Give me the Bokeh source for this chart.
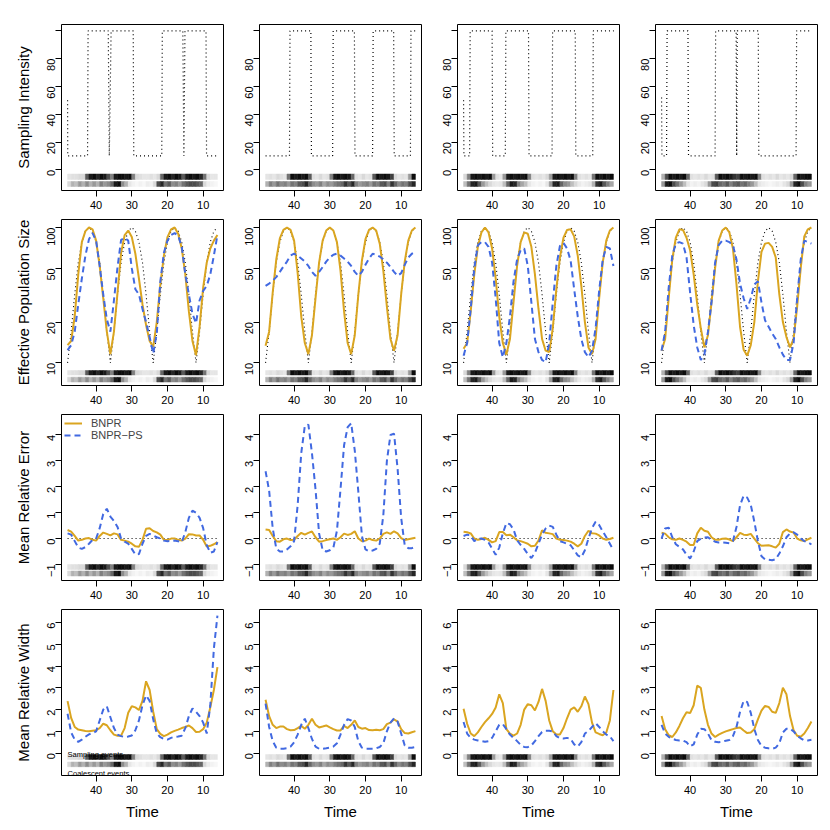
import math
from bokeh.plotting import figure
from bokeh.models import Range1d, FixedTicker, Legend, LegendItem, Label
from bokeh.layouts import gridplot
from bokeh.embed import file_html
from bokeh.resources import INLINE

# ---------------- data ----------------
time = [48, 47, 46, 45, 44, 43, 42, 41, 40, 39, 38, 37, 36, 35, 34, 33, 32, 31, 30, 29, 28,
        27, 26, 25, 24, 23, 22, 21, 20, 19, 18, 17, 16, 15, 14, 13, 12, 11, 10, 9, 8, 7, 6]

x_ticks = [40, 30, 20, 10]

# sampling intensity (step functions), one per column
si_time = [
    [48, 47.95, 42.4, 42.25, 36.6, 36.3, 35.8, 29.6, 29.45, 21.6, 21.45, 15.7, 15.4, 15.1, 9.2, 9.05, 5.9],
    [48, 41.3, 41.15, 35.3, 35.15, 29.2, 29.05, 23.1, 22.95, 18.0, 17.85, 12.1, 11.95, 7.4, 7.25, 5.9],
    [48, 47.9, 46.3, 46.15, 40.0, 39.85, 36.3, 36.15, 29.8, 29.65, 23.2, 23.05, 16.7, 16.55, 11.8, 11.65, 5.9],
    [48, 47.9, 46.6, 46.45, 40.6, 40.45, 33.0, 32.85, 27.1, 26.95, 26.8, 20.9, 20.75, 10.3, 10.15, 5.9],
]
si_value = [
    [50, 10, 10, 100, 100, 10, 100, 100, 10, 10, 100, 100, 10, 100, 100, 10, 10],
    [10, 10, 100, 100, 10, 10, 100, 100, 10, 10, 100, 100, 10, 10, 100, 100],
    [50, 10, 10, 100, 100, 10, 10, 100, 100, 10, 10, 100, 100, 10, 10, 100, 100],
    [52, 10, 10, 100, 100, 10, 10, 100, 100, 10, 100, 100, 10, 10, 100, 100],
]

# true effective population size
ne_true = [10, 17, 32, 55, 78, 94, 100, 94, 78, 55, 32, 17, 10, 17, 32, 55, 78, 94, 100, 94, 78,
           55, 32, 17, 10, 17, 32, 55, 78, 94, 100, 94, 78, 55, 32, 17, 10, 17, 32, 55, 78, 94, 100]

ne_bnpr = [
    [13.5, 14.5, 22, 45, 78, 94, 100, 97, 80, 52, 30, 17, 11.6, 17, 33, 65, 88, 95, 85, 64, 42, 27, 19, 14.5, 13.1,
     20, 38, 62, 85, 97, 100, 90, 70, 45, 24, 14.5, 11.4, 18.5, 36, 55, 70, 80, 88],
    [13.4, 17, 33, 58, 83, 96, 100, 96, 80, 46, 22, 14, 11.6, 16, 30, 55, 80, 95, 100, 95, 78, 48, 24, 14, 11.6,
     16, 32, 57, 82, 96, 100, 95, 76, 48, 26, 15, 12.3, 16, 32, 56, 80, 95, 100],
    [12.7, 14, 24, 45, 72, 92, 100, 92, 70, 42, 22, 14, 11.5, 15, 28, 52, 78, 92, 90, 72, 45, 25, 15, 12.3, 12,
     18, 35, 60, 84, 96, 97, 86, 62, 37, 20, 13, 11.6, 15, 30, 55, 80, 95, 100],
    [12.3, 15, 30, 58, 84, 97, 96, 84, 68, 45, 27, 18, 13, 16, 28, 50, 80, 95, 100, 92, 70, 38, 18.4, 12.5, 11.3,
     13.5, 20, 40, 66, 76, 77, 72, 60, 32, 20, 15.5, 13, 15, 26, 50, 86, 97, 100],
]
ne_bnpr_ps = [
    [12.4, 13.5, 17, 27, 42, 62, 82, 91, 80, 52, 32, 21, 17, 29, 51, 81, 84, 80, 50, 35, 32, 25, 20, 15.5, 11.7,
     16.5, 40, 65, 80, 88, 91, 87, 72, 45, 32, 23, 19.6, 29, 34, 37, 45, 62, 88],
    [37, 38.5, 40.5, 43, 47, 51.5, 56, 62, 64, 62, 59, 56, 52, 47, 44, 47, 51, 56, 60, 63, 64, 62, 59, 56, 52,
     47, 44, 47, 53, 59, 64, 63, 61, 58, 55, 51, 47, 44, 46, 53, 60, 64, 66],
    [11.3, 14, 25, 50, 74, 78, 78, 72, 55, 30, 14, 11, 14, 22, 40, 58, 68, 70, 52, 28, 15, 12, 10.5, 10.1, 14,
     28, 52, 73, 77, 70, 57, 35, 22, 15, 12, 11, 12.3, 18, 34, 58, 72, 70, 52],
    [12.3, 17, 36, 62, 76, 78, 76, 60, 33, 19, 13, 10.5, 11.5, 17, 28, 55, 74, 80, 80, 78, 74, 58, 38.5, 30, 25,
     30, 38, 40, 28, 20.6, 18.5, 16.5, 15, 13, 11.5, 10.5, 10.5, 14, 30, 58, 80, 78, 76],
]

mre_bnpr = [
    [0.33, 0.27, 0.1, -0.08, -0.05, 0.0, 0.02, -0.05, -0.08, 0.1, 0.23, 0.18, 0.12, 0.2, 0.16, -0.05, -0.08, -0.12,
     -0.2, -0.3, -0.32, -0.05, 0.38, 0.4, 0.29, 0.24, 0.15, -0.05, -0.06, 0.0, 0.0, -0.05, -0.08, 0.0, 0.17, 0.16,
     0.12, 0.12, -0.05, -0.31, -0.28, -0.22, -0.14],
    [0.35, 0.33, 0.1, -0.1, -0.12, -0.03, 0.0, -0.06, -0.05, 0.1, 0.22, 0.15, 0.22, 0.27, 0.05, -0.12, -0.1, -0.06,
     -0.03, 0.0, -0.05, 0.05, 0.19, 0.14, 0.18, 0.28, 0.0, -0.1, -0.08, 0.0, -0.06, -0.08, 0.0, 0.18, 0.24, 0.18,
     0.28, 0.2, 0.02, -0.06, -0.03, 0.0, 0.03],
    [0.26, 0.24, 0.2, 0.0, -0.05, -0.02, 0.03, -0.05, -0.15, -0.1, 0.25, 0.25, 0.13, 0.15, 0.05, -0.07, -0.1, -0.15,
     -0.2, -0.3, -0.28, -0.08, 0.32, 0.22, 0.2, 0.17, 0.0, -0.05, -0.06, -0.08, -0.12, -0.2, -0.3, -0.2, 0.1, 0.3,
     0.2, 0.19, 0.12, 0.0, -0.05, -0.02, 0.03],
    [0.22, 0.19, 0.05, -0.03, -0.05, 0.0, -0.05, -0.12, -0.25, -0.25, 0.2, 0.42, 0.3, 0.26, 0.05, -0.05, -0.05, -0.01,
     0.0, -0.04, -0.1, 0.05, 0.22, 0.15, 0.14, 0.18, 0.0, -0.18, -0.28, -0.27, -0.26, -0.3, -0.35, -0.2, 0.25, 0.35,
     0.27, 0.23, 0.0, -0.07, -0.1, -0.03, 0.03],
]
mre_bnpr_ps = [
    [0.2, 0.15, -0.1, -0.35, -0.4, -0.33, -0.2, -0.05, 0.0, 0.4, 0.95, 1.15, 0.85, 0.68, 0.45, 0.0, -0.12, -0.2,
     -0.4, -0.62, -0.6, -0.2, 0.1, 0.18, 0.12, 0.05, 0.0, -0.08, -0.1, -0.09, -0.08, -0.1, -0.14, 0.25, 0.8, 1.08,
     1.0, 0.8, 0.4, -0.25, -0.55, -0.5, -0.14],
    [2.6, 1.85, 0.4, -0.39, -0.5, -0.5, -0.42, -0.3, -0.1, 1.3, 3.3, 4.35, 4.4, 3.3, 1.9, 0.2, -0.45, -0.5, -0.45,
     -0.35, 0.3, 1.9, 3.6, 4.3, 4.45, 3.4, 1.8, 0.1, -0.42, -0.49, -0.46, -0.4, -0.2, 0.9, 3.0, 4.0, 4.05, 2.7, 0.8,
     -0.26, -0.37, -0.37, -0.32],
    [0.1, 0.15, 0.12, -0.1, -0.02, 0.0, -0.05, -0.15, -0.39, -0.63, -0.35, 0.2, 0.6, 0.55, 0.35, -0.06, -0.25, -0.4,
     -0.6, -0.75, -0.55, -0.2, 0.15, 0.39, 0.5, 0.45, 0.15, -0.1, -0.15, -0.2, -0.26, -0.45, -0.65, -0.72, -0.45,
     0.0, 0.4, 0.65, 0.52, 0.28, 0.05, -0.2, -0.45],
    [0.0, 0.39, 0.42, 0.05, -0.22, -0.32, -0.42, -0.62, -0.77, -0.5, -0.1, 0.0, 0.04, 0.05, -0.05, -0.12, -0.15,
     -0.15, -0.16, -0.18, -0.1, 0.45, 1.29, 1.65, 1.58, 1.3, 0.65, -0.1, -0.68, -0.8, -0.82, -0.84, -0.8, -0.58,
     -0.3, 0.05, 0.2, 0.24, 0.15, 0.0, -0.1, -0.15, -0.23],
]

mrw_bnpr = [
    [2.39, 1.62, 1.2, 1.08, 1.05, 1.02, 1.0, 1.03, 1.05, 1.15, 1.35, 1.28, 1.05, 0.85, 0.8, 0.8, 1.15, 1.85, 2.15,
     2.1, 1.98, 2.4, 3.3, 2.9, 1.9, 1.1, 0.88, 0.78, 0.85, 0.95, 1.02, 1.08, 1.15, 1.2, 1.27, 1.15, 0.97, 0.98, 1.1,
     1.4, 2.1, 2.9, 3.95],
    [2.45, 1.7, 1.3, 1.15, 1.22, 1.22, 1.1, 1.05, 1.06, 1.15, 1.25, 1.12, 1.3, 1.58, 1.3, 1.18, 1.22, 1.27, 1.18,
     1.1, 1.04, 1.04, 1.25, 1.15, 1.3, 1.5, 1.2, 1.12, 1.15, 1.06, 1.05, 1.07, 1.05, 1.1, 1.33, 1.4, 1.55, 1.45,
     1.1, 0.92, 0.9, 0.96, 1.01],
    [2.04, 1.35, 0.9, 0.78, 0.95, 1.2, 1.42, 1.6, 1.8, 2.1, 2.7, 2.3, 1.1, 0.9, 0.8, 0.9, 1.3, 2.0, 2.25, 2.2, 1.96,
     2.35, 2.95, 2.4, 1.5, 1.0, 0.85, 0.85, 1.15, 1.6, 2.0, 2.1, 1.9, 2.15, 2.6, 2.25, 1.4, 0.95, 0.88, 0.82, 0.95,
     1.5, 2.9],
    [1.7, 1.1, 0.82, 0.74, 0.95, 1.25, 1.6, 1.88, 1.84, 2.2, 3.1, 3.0, 2.0, 1.3, 0.9, 0.74, 0.85, 0.93, 1.0, 1.05,
     1.1, 1.15, 1.18, 1.04, 0.92, 0.95, 1.1, 1.55, 1.95, 2.17, 2.12, 1.9, 1.85, 2.3, 3.0, 2.7, 1.7, 1.05, 0.8, 0.75,
     0.9, 1.15, 1.45],
]
mrw_bnpr_ps = [
    [1.81, 0.95, 0.62, 0.52, 0.62, 0.75, 0.86, 0.92, 1.0, 1.5, 2.0, 2.15, 1.65, 1.15, 0.85, 0.78, 0.74, 0.76, 0.81,
     1.05, 1.5, 2.2, 2.65, 2.4, 1.55, 0.9, 0.73, 0.65, 0.62, 0.7, 0.75, 0.76, 0.8, 1.15, 1.7, 2.05, 1.9, 1.7, 1.4,
     0.9, 2.2, 4.8, 6.32],
    [2.27, 1.2, 0.55, 0.25, 0.2, 0.2, 0.22, 0.3, 0.5, 0.85, 1.3, 1.58, 1.15, 0.65, 0.3, 0.2, 0.2, 0.22, 0.25, 0.3,
     0.45, 0.85, 1.3, 1.56, 1.5, 1.2, 0.55, 0.25, 0.2, 0.2, 0.2, 0.22, 0.28, 0.45, 1.0, 1.4, 1.6, 1.45, 0.9, 0.35,
     0.25, 0.25, 0.28],
    [1.43, 0.9, 0.7, 0.62, 0.58, 0.55, 0.52, 0.55, 0.7, 1.0, 1.3, 1.33, 1.1, 0.85, 0.7, 0.55, 0.38, 0.28, 0.27, 0.35,
     0.55, 0.78, 0.97, 1.03, 1.03, 1.0, 0.78, 0.68, 0.67, 0.7, 0.65, 0.4, 0.3, 0.5, 0.9, 1.02, 1.2, 1.38, 1.2, 1.0,
     0.85, 0.77, 0.55],
    [1.3, 0.9, 0.75, 0.66, 0.6, 0.58, 0.58, 0.5, 0.31, 0.4, 0.85, 1.12, 1.1, 0.9, 0.6, 0.52, 0.5, 0.52, 0.57, 0.6,
     0.78, 1.2, 1.9, 2.4, 2.35, 1.85, 1.1, 0.6, 0.32, 0.25, 0.22, 0.2, 0.25, 0.45, 0.95, 1.12, 1.12, 1.0, 0.8, 0.68,
     0.58, 0.58, 0.61],
]

# heat strips: grey level (0 = black, 1 = white) per one-unit time bin, 48 -> 6
sampling_shade = [
    [0.9, 0.88, 0.88, 0.85, 0.85, 0.35, 0.1, 0.05, 0.15, 0.05, 0.1, 0.3, 0.5, 0.1, 0.05, 0.05, 0.1, 0.05, 0.5, 0.85,
     0.88, 0.9, 0.9, 0.88, 0.9, 0.85, 0.4, 0.1, 0.05, 0.15, 0.05, 0.1, 0.35, 0.1, 0.05, 0.1, 0.05, 0.15, 0.45, 0.85,
     0.9, 0.9],
    [0.9, 0.88, 0.9, 0.85, 0.88, 0.9, 0.45, 0.05, 0.1, 0.05, 0.1, 0.05, 0.35, 0.88, 0.9, 0.85, 0.9, 0.88, 0.5, 0.1,
     0.05, 0.1, 0.05, 0.1, 0.4, 0.88, 0.9, 0.85, 0.9, 0.88, 0.35, 0.05, 0.1, 0.05, 0.1, 0.25, 0.85, 0.9, 0.88, 0.9,
     0.6, 0.05],
    [0.85, 0.5, 0.1, 0.05, 0.1, 0.05, 0.1, 0.05, 0.6, 0.88, 0.9, 0.6, 0.1, 0.05, 0.1, 0.05, 0.1, 0.05, 0.5, 0.88,
     0.9, 0.88, 0.9, 0.85, 0.6, 0.1, 0.05, 0.1, 0.05, 0.1, 0.05, 0.5, 0.88, 0.9, 0.88, 0.9, 0.45, 0.05, 0.1, 0.05,
     0.1, 0.05],
    [0.7, 0.3, 0.05, 0.1, 0.05, 0.1, 0.05, 0.4, 0.88, 0.9, 0.88, 0.9, 0.85, 0.9, 0.88, 0.35, 0.05, 0.1, 0.05, 0.1,
     0.2, 0.25, 0.05, 0.1, 0.05, 0.1, 0.05, 0.5, 0.88, 0.9, 0.88, 0.9, 0.85, 0.9, 0.88, 0.9, 0.85, 0.4, 0.05, 0.1,
     0.05, 0.05],
]
coalescent_shade = [
    [0.85, 0.7, 0.75, 0.6, 0.7, 0.55, 0.7, 0.6, 0.7, 0.5, 0.6, 0.55, 0.4, 0.1, 0.05, 0.55, 0.7, 0.9, 0.95, 0.97,
     0.95, 0.97, 0.93, 0.95, 0.85, 0.3, 0.15, 0.45, 0.35, 0.55, 0.5, 0.6, 0.45, 0.35, 0.3, 0.3, 0.35, 0.4, 0.85,
     0.93, 0.95, 0.97],
    [0.7, 0.5, 0.6, 0.45, 0.55, 0.5, 0.6, 0.45, 0.5, 0.35, 0.3, 0.15, 0.4, 0.55, 0.6, 0.5, 0.65, 0.55, 0.6, 0.5,
     0.45, 0.4, 0.2, 0.35, 0.15, 0.5, 0.6, 0.55, 0.5, 0.6, 0.45, 0.5, 0.35, 0.3, 0.5, 0.2, 0.4, 0.55, 0.45, 0.5,
     0.3, 0.15],
    [0.75, 0.45, 0.15, 0.1, 0.35, 0.6, 0.75, 0.85, 0.9, 0.92, 0.9, 0.75, 0.4, 0.1, 0.15, 0.5, 0.65, 0.75, 0.9, 0.95,
     0.97, 0.95, 0.97, 0.9, 0.6, 0.15, 0.1, 0.4, 0.55, 0.6, 0.75, 0.85, 0.92, 0.95, 0.93, 0.9, 0.7, 0.2, 0.1, 0.35,
     0.5, 0.65],
    [0.6, 0.1, 0.05, 0.3, 0.45, 0.6, 0.75, 0.9, 0.95, 0.93, 0.95, 0.9, 0.85, 0.6, 0.3, 0.25, 0.4, 0.45, 0.35, 0.5,
     0.4, 0.35, 0.45, 0.4, 0.5, 0.6, 0.75, 0.9, 0.93, 0.95, 0.97, 0.95, 0.93, 0.95, 0.9, 0.85, 0.6, 0.15, 0.05, 0.3,
     0.5, 0.6],
]

row_labels = ["Sampling Intensity", "Effective Population Size", "Mean Relative Error", "Mean Relative Width"]
y_limits = [(-14.9, 104.6), (6.8, 114.6), (-1.62, 4.79), (-1.03, 6.6)]
y_ticks = [[0, 20, 40, 60, 80, 100], [10, 20, 50, 100], [-1, 0, 1, 2, 3, 4], [0, 1, 2, 3, 4, 5, 6]]
y_overrides = [{100: ""}, {10: "10", 20: "20", 50: "50", 100: "100"}, {-1: "\u22121"}, {}]
legend_labels = ["BNPR", "BNPR\u2212PS"]
strip_labels = ["Sampling events", "Coalescent events"]

# ---------------- style / layout ----------------
GOLD = "#DAA520"
BLUE = "#4169E1"
FONT = "Liberation Sans"
FW, FH = 162, 166
LB = [61, 33, 33, 33]
RB = 3
TB = [24, 2, 2, 2]
BB = [27, 27, 27, 52]
# strip offsets (px above frame bottom): (top strip), (bottom strip)
STRIP = [((11, 16.5), (4, 9)), ((10.5, 15), (3.5, 8.3)), ((11, 16), (4.5, 9.5)), ((16, 21), (8.8, 13.5))]


def grey(v):
    g = int(round(v * 255))
    return "#%02x%02x%02x" % (g, g, g)


def yval(r, px):
    lo, hi = y_limits[r]
    f = px / FH
    if r == 1:
        return 10 ** (math.log10(lo) + f * (math.log10(hi) - math.log10(lo)))
    return lo + f * (hi - lo)


bin_left = time[:-1]
bin_right = time[1:]

rows = []
for r in range(4):
    row = []
    for c in range(4):
        p = figure(width=LB[c] + FW + RB, height=TB[r] + FH + BB[r],
                   x_range=Range1d(49.7, 4.3), y_range=Range1d(*y_limits[r]),
                   y_axis_type=("log" if r == 1 else "linear"),
                   output_backend="svg", toolbar_location=None, title=None,
                   min_border_left=LB[c], min_border_right=RB,
                   min_border_top=TB[r], min_border_bottom=BB[r])
        p.outline_line_color = "black"
        p.outline_line_width = 1
        p.xgrid.visible = False
        p.ygrid.visible = False
        for ax in (p.xaxis[0], p.yaxis[0]):
            ax.axis_line_color = None
            ax.major_tick_out = 6
            ax.major_tick_in = 0
            ax.minor_tick_out = 0
            ax.minor_tick_in = 0
            ax.major_tick_line_color = "black"
            ax.major_label_text_font = FONT
            ax.major_label_text_font_size = "11px"
            ax.major_label_text_color = "black"
            ax.major_label_standoff = 4
            ax.axis_label_text_font = FONT
            ax.axis_label_text_font_size = "15px"
            ax.axis_label_text_font_style = "normal"
            ax.axis_label_text_color = "black"
        p.xaxis.ticker = FixedTicker(ticks=x_ticks)
        p.yaxis.ticker = FixedTicker(ticks=y_ticks[r])
        p.yaxis.major_label_orientation = math.pi / 2
        if y_overrides[r]:
            p.yaxis.major_label_overrides = y_overrides[r]
        if c == 0:
            p.yaxis.axis_label = row_labels[r]
            p.yaxis.axis_label_standoff = 9
        if r == 3:
            p.xaxis.axis_label = "Time"
            p.xaxis.axis_label_standoff = 6

        # heat strips
        (t0, t1), (b0, b1) = STRIP[r]
        p.quad(left=bin_left, right=bin_right, bottom=yval(r, t0), top=yval(r, t1),
               fill_color=[grey(v) for v in sampling_shade[c]],
               line_color=[grey(v) for v in sampling_shade[c]], line_width=0.5)
        p.quad(left=bin_left, right=bin_right, bottom=yval(r, b0), top=yval(r, b1),
               fill_color=[grey(v) for v in coalescent_shade[c]],
               line_color=[grey(v) for v in coalescent_shade[c]], line_width=0.5)

        if r == 0:
            p.line(si_time[c], si_value[c], line_color="black", line_width=1.2, line_dash="1 3")
        elif r == 1:
            p.line(time, ne_true, line_color="black", line_width=1.1, line_dash="1 3")
            p.line(time, ne_bnpr[c], line_color=GOLD, line_width=2)
            p.line(time, ne_bnpr_ps[c], line_color=BLUE, line_width=2, line_dash="6 4")
        elif r == 2:
            p.line([time[0], time[-1]], [0, 0], line_color="black", line_width=1.1, line_dash="1 3")
            g = p.line(time, mre_bnpr[c], line_color=GOLD, line_width=2)
            b = p.line(time, mre_bnpr_ps[c], line_color=BLUE, line_width=2, line_dash="6 4")
            if c == 0:
                leg = Legend(items=[LegendItem(label=legend_labels[0], renderers=[g]),
                                    LegendItem(label=legend_labels[1], renderers=[b])],
                             location="top_left", border_line_color=None, background_fill_alpha=0,
                             label_text_font=FONT, label_text_font_size="11px",
                             glyph_width=18, glyph_height=12, label_height=12, spacing=0,
                             padding=5, margin=3, label_standoff=9)
                p.add_layout(leg)
        else:
            p.line(time, mrw_bnpr[c], line_color=GOLD, line_width=2)
            p.line(time, mrw_bnpr_ps[c], line_color=BLUE, line_width=2, line_dash="6 4")
            if c == 0:
                p.add_layout(Label(x=time[0], y=yval(r, 21.5), text=strip_labels[0], text_color="black",
                                   text_font=FONT, text_font_size="7.5px", text_baseline="alphabetic"))
                p.add_layout(Label(x=time[0], y=yval(r, 2.5), text=strip_labels[1], text_color="black",
                                   text_font=FONT, text_font_size="7.5px", text_baseline="alphabetic"))
        row.append(p)
    rows.append(row)

grid = gridplot(rows, toolbar_location=None)
open("out.html", "w").write(file_html(grid, INLINE))
